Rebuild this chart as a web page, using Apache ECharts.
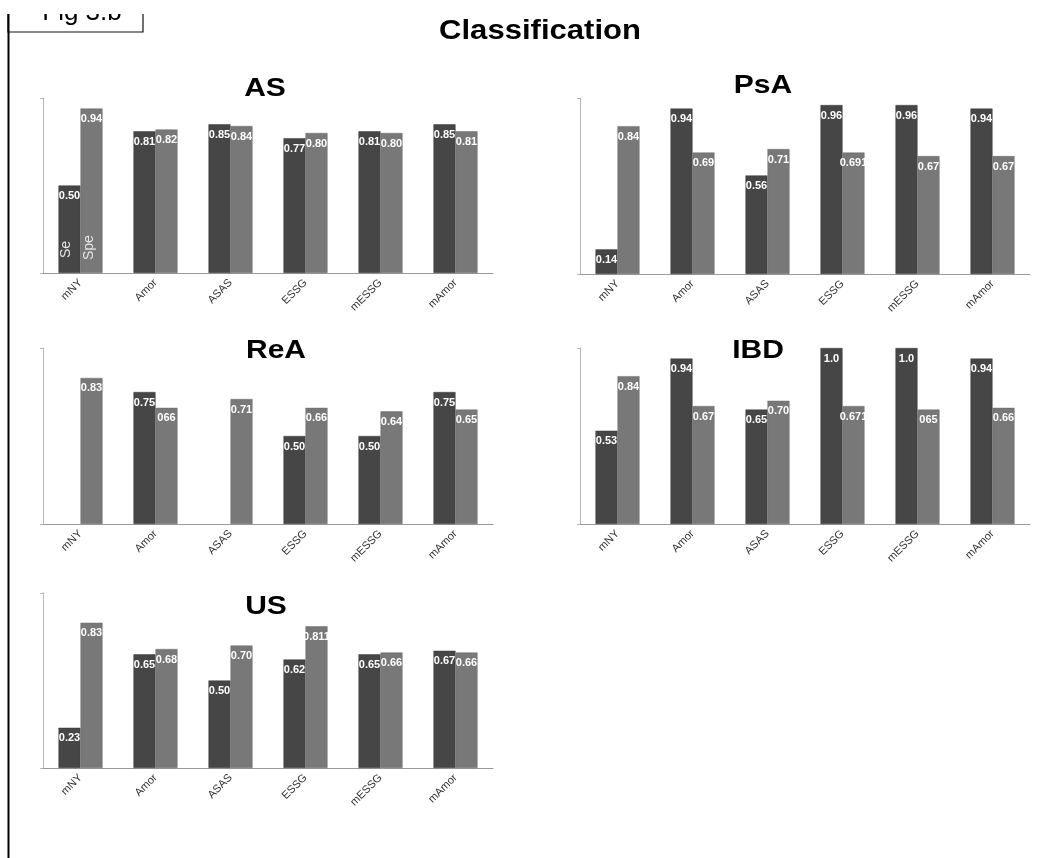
<!DOCTYPE html>
<html lang="en">
<head>
    <meta charset="UTF-8">
    <title>Classification</title>
    <script src="https://cdn.jsdelivr.net/npm/echarts@6/dist/echarts.min.js"></script>
    <style>
        html, body { margin: 0; padding: 0; background: #fff; }
        #container { width: 1060px; height: 858px; }
    </style>
</head>
<body>
<div id="container"></div>
<script type="text/javascript">
    var categories = ['mNY', 'Amor', 'ASAS', 'ESSG', 'mESSG', 'mAmor'];
    var panelNames = ['AS', 'PsA', 'ReA', 'IBD', 'US'];

    // Se (dark) and Spe (light) per panel
    var seAS = [0.50, 0.81, 0.85, 0.77, 0.81, 0.85];
    var speAS = [0.94, 0.82, 0.84, 0.80, 0.80, 0.81];
    var sePsA = [0.14, 0.94, 0.56, 0.96, 0.96, 0.94];
    var spePsA = [0.84, 0.69, 0.71, 0.69, 0.67, 0.67];
    var seReA = ['-', 0.75, '-', 0.50, 0.50, 0.75];
    var speReA = [0.83, 0.66, 0.71, 0.66, 0.64, 0.65];
    var seIBD = [0.53, 0.94, 0.65, 1.0, 1.0, 0.94];
    var speIBD = [0.84, 0.67, 0.70, 0.67, 0.65, 0.66];
    var seUS = [0.23, 0.65, 0.50, 0.62, 0.65, 0.67];
    var speUS = [0.83, 0.68, 0.70, 0.81, 0.66, 0.66];

    // label texts as printed in the figure
    var seTextAS = ['0.50', '0.81', '0.85', '0.77', '0.81', '0.85'];
    var speTextAS = ['0.94', '0.82', '0.84', '0.80', '0.80', '0.81'];
    var seTextPsA = ['0.14', '0.94', '0.56', '0.96', '0.96', '0.94'];
    var speTextPsA = ['0.84', '0.69', '0.71', '0.691', '0.67', '0.67'];
    var seTextReA = ['', '0.75', '', '0.50', '0.50', '0.75'];
    var speTextReA = ['0.83', '066', '0.71', '0.66', '0.64', '0.65'];
    var seTextIBD = ['0.53', '0.94', '0.65', '1.0', '1.0', '0.94'];
    var speTextIBD = ['0.84', '0.67', '0.70', '0.671', '065', '0.66'];
    var seTextUS = ['0.23', '0.65', '0.50', '0.62', '0.65', '0.67'];
    var speTextUS = ['0.83', '0.68', '0.70', '0.811', '0.66', '0.66'];

    var seData = [seAS, sePsA, seReA, seIBD, seUS];
    var speData = [speAS, spePsA, speReA, speIBD, speUS];
    var seText = [seTextAS, seTextPsA, seTextReA, seTextIBD, seTextUS];
    var speText = [speTextAS, speTextPsA, speTextReA, speTextIBD, speTextUS];

    var font = 'Liberation Sans';
    var darkColor = '#464646';
    var lightColor = '#787878';

    var grids = [
        {left: 43, top: 98, width: 450, height: 175},
        {left: 580, top: 98, width: 450, height: 176},
        {left: 43, top: 348, width: 450, height: 176},
        {left: 580, top: 348, width: 450, height: 176},
        {left: 43, top: 593, width: 450, height: 175}
    ];
    var titlePos = [[265, 89], [763, 86], [276, 351], [758, 351], [266, 607]];

    var dom = document.getElementById('container');
    var myChart = echarts.init(dom);

    var xAxes = [], yAxes = [], series = [], graphics = [];

    for (var i = 0; i < panelNames.length; i++) {
        xAxes.push({
            gridIndex: i,
            type: 'category',
            data: categories,
            axisLine: {lineStyle: {color: '#9a9a9a', width: 1}},
            axisTick: {show: false},
            axisLabel: {
                interval: 0,
                rotate: 45,
                margin: 8,
                fontSize: 11,
                fontFamily: font,
                color: '#333'
            }
        });
        yAxes.push({
            gridIndex: i,
            type: 'value',
            min: 0,
            max: 1,
            interval: 1,
            axisLine: {show: true, lineStyle: {color: '#b8b8b8', width: 1}},
            axisTick: {show: true, length: 3, lineStyle: {color: '#b8b8b8'}},
            axisLabel: {show: false},
            splitLine: {show: false}
        });
        (function (idx) {
            series.push({
                name: 'Se',
                type: 'bar',
                xAxisIndex: idx,
                yAxisIndex: idx,
                data: seData[idx],
                barWidth: 22,
                barGap: '0%',
                itemStyle: {color: darkColor, borderColor: '#3a3a3a', borderWidth: 0.5},
                label: {
                    show: true,
                    position: 'insideTop',
                    distance: 5,
                    color: '#fff',
                    fontSize: 11,
                    fontWeight: 'bold',
                    fontFamily: font,
                    formatter: function (p) { return seText[idx][p.dataIndex]; }
                }
            });
            series.push({
                name: 'Spe',
                type: 'bar',
                xAxisIndex: idx,
                yAxisIndex: idx,
                data: speData[idx],
                barWidth: 22,
                barGap: '0%',
                itemStyle: {color: lightColor, borderColor: '#6c6c6c', borderWidth: 0.5},
                label: {
                    show: true,
                    position: 'insideTop',
                    distance: 5,
                    color: '#fff',
                    fontSize: 11,
                    fontWeight: 'bold',
                    fontFamily: font,
                    formatter: function (p) { return speText[idx][p.dataIndex]; }
                }
            });
        })(i);

        graphics.push({
            type: 'text',
            x: titlePos[i][0],
            y: titlePos[i][1],
            scaleX: 1.2,
            style: {
                text: panelNames[i],
                fill: '#000',
                font: 'bold 25px "Liberation Sans"',
                align: 'center',
                verticalAlign: 'middle'
            }
        });
    }

    // main title
    graphics.push({
        type: 'text',
        x: 540,
        y: 32,
        scaleX: 1.15,
        style: {
            text: 'Classification',
            fill: '#000',
            font: 'bold 27px "Liberation Sans"',
            align: 'center',
            verticalAlign: 'middle'
        }
    });

    // figure tag box (top cut off by the page edge) and margin line
    graphics.push({
        type: 'rect',
        shape: {x: 8, y: -10, width: 135, height: 42},
        style: {fill: '#fff', stroke: '#111', lineWidth: 1.2}
    });
    graphics.push({
        type: 'text',
        x: 82,
        y: 26,
        style: {
            text: 'Fig 3.b',
            fill: '#000',
            font: '26px "Liberation Sans"',
            align: 'center',
            verticalAlign: 'bottom'
        }
    });
    graphics.push({
        type: 'line',
        shape: {x1: 8.5, y1: 0, x2: 8.5, y2: 858},
        style: {stroke: '#000', lineWidth: 2}
    });
    graphics.push({
        type: 'rect',
        shape: {x: 0, y: 0, width: 1060, height: 14},
        style: {fill: '#fff'},
        z: 100
    });

    var option = {
        backgroundColor: '#fff',
        animation: false,
        grid: grids,
        xAxis: xAxes,
        yAxis: yAxes,
        series: series,
        graphic: graphics
    };

    myChart.setOption(option, true);

    // Se / Spe markers inside the first pair of bars of the AS panel
    var base = myChart.convertToPixel({gridIndex: 0}, [categories[0], 0]);
    graphics.push({
        type: 'text',
        x: base[0] - 14,
        y: base[1] - 15,
        rotation: Math.PI / 2,
        z: 50,
        style: {
            text: 'Se',
            fill: '#e6e6e6',
            font: '14px "Liberation Sans"',
            align: 'left',
            verticalAlign: 'middle'
        }
    });
    graphics.push({
        type: 'text',
        x: base[0] + 8.5,
        y: base[1] - 13,
        rotation: Math.PI / 2,
        z: 50,
        style: {
            text: 'Spe',
            fill: '#e6e6e6',
            font: '14px "Liberation Sans"',
            align: 'left',
            verticalAlign: 'middle'
        }
    });
    myChart.setOption({graphic: graphics});
</script>
</body>
</html>
